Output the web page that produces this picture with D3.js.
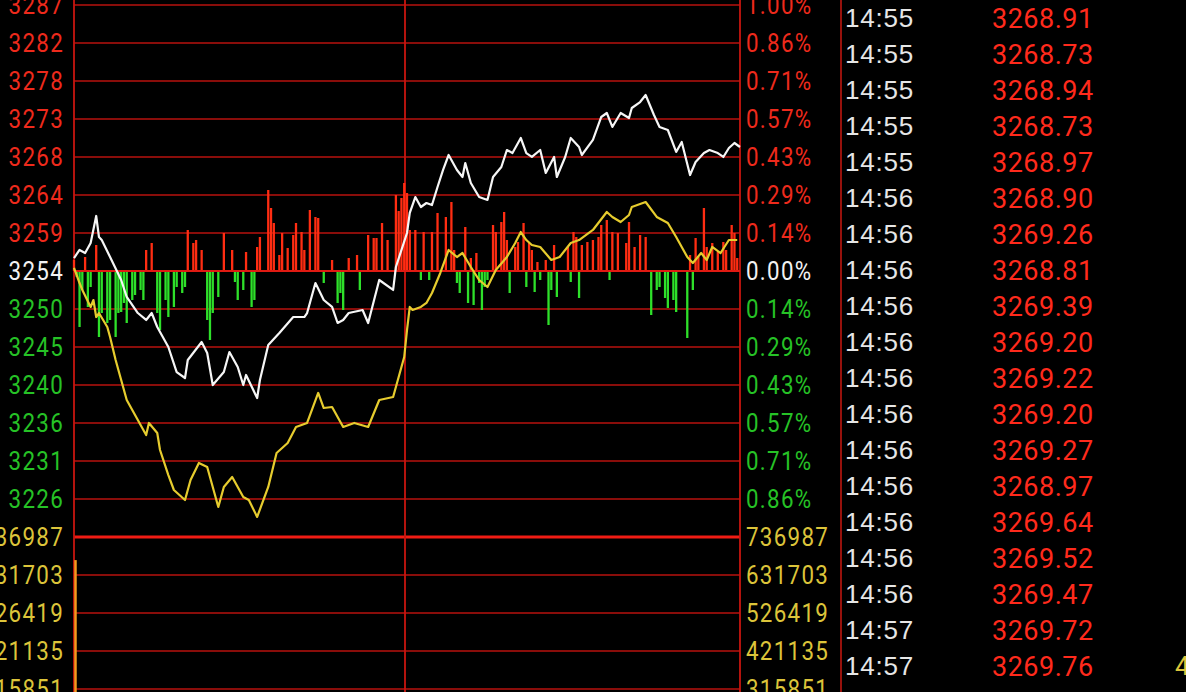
<!DOCTYPE html>
<html>
<head>
<meta charset="utf-8">
<script src="https://cdn.jsdelivr.net/npm/d3@7"></script>
<style>
  body { margin: 0; background: #000; overflow: hidden; }
</style>
</head>
<body>
<script>
'use strict';

// ---- data ----
const prevClose = 3254.0;

const priceLabels = ["3287", "3282", "3278", "3273", "3268", "3264", "3259", "3254",
  "3250", "3245", "3240", "3236", "3231", "3226"];
const pctLabels = ["1.00%", "0.86%", "0.71%", "0.57%", "0.43%", "0.29%", "0.14%", "0.00%",
  "0.14%", "0.29%", "0.43%", "0.57%", "0.71%", "0.86%"];
const volLabels = [736987, 631703, 526419, 421135, 315851];

// index line (white): minute, value
const whiteMin = [0, 2, 4, 6, 8, 9, 10, 13, 17, 19, 23, 26, 28, 30, 34, 37, 40, 41, 46, 48,
  50, 54, 56, 59, 61, 62, 66, 67, 70, 74, 79, 83, 84, 87, 90, 93, 95, 97, 99, 104,
  106, 110, 115, 116, 120, 121, 123, 125, 127, 129, 131, 133, 135, 138, 140, 141, 143, 146, 149, 151,
  154, 156, 158, 161, 163, 165, 168, 170, 173, 174, 177, 179, 182, 183, 187, 190, 192, 194, 197, 200,
  201, 204, 206, 209, 211, 214, 217, 219, 222, 224, 227, 229, 232, 234, 236, 238, 240];
const whiteVal = [3255.59, 3256.57, 3256.20, 3257.43, 3260.73, 3258.16, 3257.79, 3255.71, 3252.90, 3250.82,
  3248.86, 3248.01, 3248.86, 3247.15, 3244.70, 3241.64, 3240.91, 3243.11, 3245.31, 3243.97,
  3240.05, 3241.64, 3244.09, 3242.26, 3240.05, 3241.28, 3238.46, 3240.67, 3244.95, 3246.42,
  3248.37, 3248.37, 3248.86, 3252.53, 3250.45, 3249.60, 3247.64, 3248.01, 3248.86, 3249.23,
  3247.64, 3252.90, 3251.68, 3254.49, 3258.65, 3261.10, 3263.05, 3261.83, 3262.32, 3262.07,
  3264.28, 3266.36, 3268.19, 3266.36, 3265.50, 3267.21, 3264.77, 3263.05, 3262.69, 3265.50,
  3266.72, 3268.80, 3268.43, 3270.27, 3268.43, 3267.95, 3268.80, 3265.99, 3267.95, 3265.50,
  3267.95, 3270.27, 3269.17, 3268.19, 3270.03, 3272.84, 3273.33, 3271.62, 3273.33, 3272.72,
  3273.94, 3274.67, 3275.53, 3273.08, 3271.62, 3271.25, 3268.56, 3269.78, 3265.74, 3267.33,
  3268.43, 3268.80, 3268.43, 3267.95, 3269.05, 3269.66, 3269.17];

// second line (yellow): minute, value
const yellowMin = [0, 2, 3, 6, 7, 8, 9, 12, 13, 15, 19, 23, 26, 27, 30, 31, 34, 36, 40, 42,
  45, 48, 50, 52, 54, 57, 61, 63, 66, 70, 73, 77, 80, 84, 88, 90, 93, 97, 101, 106,
  110, 115, 119, 120, 121, 122, 125, 127, 129, 132, 135, 138, 140, 143, 146, 149, 152, 156, 159, 161,
  163, 165, 168, 172, 175, 179, 182, 187, 192, 194, 197, 200, 201, 206, 210, 214, 217, 221, 223, 226,
  228, 230, 233, 236, 239];
const yellowVal = [3254.37, 3252.53, 3251.68, 3249.60, 3250.45, 3248.37, 3248.86, 3247.15, 3245.93, 3243.11,
  3238.22, 3235.77, 3233.94, 3235.41, 3234.18, 3232.10, 3229.04, 3227.21, 3225.99, 3228.43,
  3230.51, 3230.02, 3227.58, 3225.13, 3227.58, 3228.80, 3226.35, 3225.99, 3223.91, 3227.58,
  3231.74, 3232.96, 3234.92, 3235.41, 3239.08, 3237.24, 3237.36, 3234.92, 3235.41, 3234.92,
  3238.22, 3238.59, 3243.48, 3246.78, 3249.60, 3249.23, 3249.60, 3250.09, 3251.31, 3253.76,
  3256.57, 3255.71, 3256.20, 3254.49, 3252.90, 3252.04, 3254.12, 3255.71, 3257.43, 3258.77,
  3257.79, 3257.18, 3256.94, 3255.35, 3255.71, 3257.43, 3257.79, 3259.02, 3261.22, 3260.61,
  3259.99, 3260.85, 3261.83, 3262.44, 3260.61, 3259.87, 3258.16, 3255.71, 3254.98, 3256.20,
  3255.35, 3256.94, 3256.20, 3257.79, 3257.79];

// red (up) breadth bars: minute, strength
const upMin = [0, 4, 8, 26, 28, 41, 43, 44, 46, 54, 57, 62, 66, 67, 70, 71, 72, 74, 75, 77,
  79, 80, 82, 83, 85, 87, 88, 93, 99, 102, 106, 108, 109, 111, 113, 116, 117, 118, 119, 120,
  121, 123, 126, 129, 131, 134, 136, 137, 141, 143, 145, 151, 152, 154, 155, 156, 159, 160, 162, 164,
  165, 167, 170, 173, 178, 180, 181, 183, 185, 187, 189, 190, 192, 194, 196, 199, 200, 202, 204, 206,
  222, 224, 225, 227, 228, 230, 232, 234, 235, 237, 238, 239];
const upVal = [11, 14, 26, 21, 28, 41, 28, 31, 21, 38, 21, 19, 24, 34, 81, 63, 48, 16, 38, 23,
  36, 48, 39, 21, 61, 54, 53, 11, 13, 16, 36, 33, 33, 48, 31, 76, 60, 73, 88, 78,
  41, 41, 39, 39, 58, 54, 69, 21, 44, 13, 18, 46, 39, 49, 59, 31, 24, 29, 48, 28,
  21, 9, 11, 26, 24, 39, 34, 26, 29, 31, 34, 46, 51, 39, 38, 28, 49, 24, 36, 34,
  16, 33, 14, 63, 24, 28, 19, 29, 21, 46, 38, 13];

// green (down) breadth bars: minute, strength
const downMin = [1, 2, 3, 5, 6, 9, 10, 12, 13, 15, 16, 17, 18, 19, 21, 22, 24, 25, 30, 31,
  33, 34, 36, 37, 39, 40, 48, 49, 50, 52, 58, 59, 61, 64, 65, 90, 95, 96, 97, 103,
  125, 128, 138, 139, 142, 144, 146, 147, 148, 149, 157, 163, 166, 168, 171, 172, 174, 179, 182, 193,
  208, 210, 211, 213, 214, 216, 217, 221, 223];
const downVal = [-6, -56, -19, -36, -16, -66, -42, -52, -49, -66, -42, -41, -32, -52, -29, -24, -19, -29, -42, -59,
  -29, -46, -36, -16, -22, -16, -49, -69, -42, -26, -11, -29, -19, -36, -29, -12, -32, -22, -39, -19,
  -9, -9, -12, -22, -32, -34, -12, -39, -16, -9, -22, -16, -21, -9, -54, -19, -26, -11, -27, -9,
  -44, -19, -16, -27, -37, -29, -41, -67, -19];

// volume
const volMin = [0];
const volVal = [673000];

// tick table on the right
const tickTimes = ["14:55", "14:55", "14:55", "14:55", "14:55", "14:56", "14:56", "14:56", "14:56", "14:56",
  "14:56", "14:56", "14:56", "14:56", "14:56", "14:56", "14:56", "14:57", "14:57"];
const tickPrices = ["3268.91", "3268.73", "3268.94", "3268.73", "3268.97", "3268.90", "3269.26", "3268.81",
  "3269.39", "3269.20", "3269.22", "3269.20", "3269.27", "3268.97", "3269.64", "3269.52", "3269.47",
  "3269.72", "3269.76"];

// ---- layout ----
const width = 1186, height = 692;
const plot = { left: 74, right: 740, mid: 405, top: 5, priceBottom: 537 };
const gridColor = '#b8120e';
const red = '#ee2a1c', green = '#26c226', yellow = '#dcc43a';

const svg = d3.select('body').append('svg')
  .attr('width', width)
  .attr('height', height)
  .style('background', '#000');

const x = d3.scaleLinear().domain([0, 240]).range([plot.left, plot.right]);
const y = d3.scaleLinear()
  .domain([prevClose * 0.99, prevClose * 1.01])
  .range([plot.priceBottom, plot.top]);
const barY = d3.scaleLinear().domain([-100, 100]).range([y(prevClose) + 100, y(prevClose) - 100]);
const volY = d3.scaleLinear().domain([0, volLabels[0]]).range([803, plot.priceBottom]);

// price grid levels, 7 steps each side of previous close
const levels = priceLabels.map((d, i) => prevClose * (1 + (7 - i) / 7 * 0.01));

function labelColor(i) {
  if (i < 7) return red;
  if (i === 7) return '#f2f2f2';
  return green;
}

// grid lines
svg.append('g').selectAll('line')
  .data(levels)
  .enter()
  .append('line')
    .attr('x1', plot.left).attr('x2', plot.right)
    .attr('y1', (d) => y(d)).attr('y2', (d) => y(d))
    .attr('stroke', gridColor)
    .attr('stroke-width', 1.7);

svg.append('g').selectAll('line')
  .data(volLabels.slice(1))
  .enter()
  .append('line')
    .attr('x1', plot.left).attr('x2', plot.right)
    .attr('y1', (d) => volY(d)).attr('y2', (d) => volY(d))
    .attr('stroke', gridColor)
    .attr('stroke-width', 1.7);

// frame lines
svg.append('line')
  .attr('x1', plot.left).attr('x2', plot.right)
  .attr('y1', plot.priceBottom).attr('y2', plot.priceBottom)
  .attr('stroke', '#f01c14').attr('stroke-width', 3);

[plot.left, plot.mid, plot.right].forEach((xx) => {
  svg.append('line')
    .attr('x1', xx).attr('x2', xx)
    .attr('y1', 0).attr('y2', height)
    .attr('stroke', '#c8160f').attr('stroke-width', 1.8);
});
svg.append('line')
  .attr('x1', 841).attr('x2', 841)
  .attr('y1', 0).attr('y2', height)
  .attr('stroke', '#a8140e').attr('stroke-width', 1.8);

// axis labels: slightly narrow, tall digits
const axisFont = 'Roboto, "Liberation Sans", sans-serif';

function axisText(g, data, xPos, anchor, yPos, color) {
  g.selectAll('text')
    .data(data)
    .enter()
    .append('text')
      .attr('transform', (d, i) => 'translate(' + xPos + ',' + yPos(d, i) + ') scale(0.86,1)')
      .attr('dy', '0.36em')
      .attr('text-anchor', anchor)
      .style('font-family', axisFont)
      .style('font-size', '26px')
      .style('letter-spacing', '1.5px')
      .attr('fill', color)
      .text((d) => d);
}

axisText(svg.append('g'), priceLabels, 64, 'end', (d, i) => y(levels[i]), (d, i) => labelColor(i));
axisText(svg.append('g'), pctLabels, 746, 'start', (d, i) => y(levels[i]), (d, i) => labelColor(i));
axisText(svg.append('g'), volLabels, 64, 'end', (d) => volY(d), yellow);
axisText(svg.append('g'), volLabels, 746, 'start', (d) => volY(d), yellow);

// breadth bars
const upData = upMin.map((m, i) => ({ m: m, v: upVal[i] }));
const downData = downMin.map((m, i) => ({ m: m, v: downVal[i] }));

svg.append('g').selectAll('line')
  .data(downData)
  .enter()
  .append('line')
    .attr('x1', (d) => x(d.m)).attr('x2', (d) => x(d.m))
    .attr('y1', barY(0)).attr('y2', (d) => barY(d.v))
    .attr('stroke', '#2ee02a')
    .attr('stroke-width', 2.3);

svg.append('g').selectAll('line')
  .data(upData)
  .enter()
  .append('line')
    .attr('x1', (d) => x(d.m)).attr('x2', (d) => x(d.m))
    .attr('y1', barY(0)).attr('y2', (d) => barY(d.v))
    .attr('stroke', '#ff2d12')
    .attr('stroke-width', 2.3);

// zero line on top of the bars
svg.append('line')
  .attr('x1', plot.left).attr('x2', plot.right)
  .attr('y1', y(prevClose)).attr('y2', y(prevClose))
  .attr('stroke', '#e01a12').attr('stroke-width', 2);

// volume bars
svg.append('g').selectAll('line')
  .data(volMin.map((m, i) => ({ m: m, v: volVal[i] })))
  .enter()
  .append('line')
    .attr('x1', (d) => x(d.m) + 1.5).attr('x2', (d) => x(d.m) + 1.5)
    .attr('y1', height).attr('y2', (d) => volY(d.v))
    .attr('stroke', '#f59a1c')
    .attr('stroke-width', 2.5);

// price lines
const line = d3.line()
  .x((d) => x(d.m))
  .y((d) => y(d.v));

svg.append('path')
  .datum(yellowMin.map((m, i) => ({ m: m, v: yellowVal[i] })))
  .attr('fill', 'none')
  .attr('stroke', '#e6cc2e')
  .attr('stroke-width', 2.2)
  .attr('stroke-linejoin', 'round')
  .attr('d', line);

svg.append('path')
  .datum(whiteMin.map((m, i) => ({ m: m, v: whiteVal[i] })))
  .attr('fill', 'none')
  .attr('stroke', '#f6f6f6')
  .attr('stroke-width', 2.2)
  .attr('stroke-linejoin', 'round')
  .attr('d', line);

// tick table
const rowY = d3.scaleLinear().domain([0, 1]).range([18, 54]);

svg.append('g').selectAll('text')
  .data(tickTimes)
  .enter()
  .append('text')
    .attr('x', 845)
    .attr('y', (d, i) => rowY(i))
    .attr('dy', '0.36em')
    .style('font-family', '"Liberation Sans", Arial, sans-serif')
    .style('font-size', '26px')
    .style('letter-spacing', '0.8px')
    .attr('fill', '#e6e6e6')
    .text((d) => d);

svg.append('g').selectAll('text')
  .data(tickPrices)
  .enter()
  .append('text')
    .attr('x', 992)
    .attr('y', (d, i) => rowY(i))
    .attr('dy', '0.36em')
    .style('font-family', axisFont)
    .style('font-size', '27px')
    .style('letter-spacing', '0.5px')
    .attr('fill', '#ff2a1c')
    .text((d) => d);

// clipped character at the bottom right corner
svg.append('text')
  .attr('x', 1175)
  .attr('y', rowY(18))
  .attr('dy', '0.36em')
  .style('font-family', axisFont)
  .style('font-size', '26px')
  .attr('fill', yellow)
  .text('4');
</script>
</body>
</html>
